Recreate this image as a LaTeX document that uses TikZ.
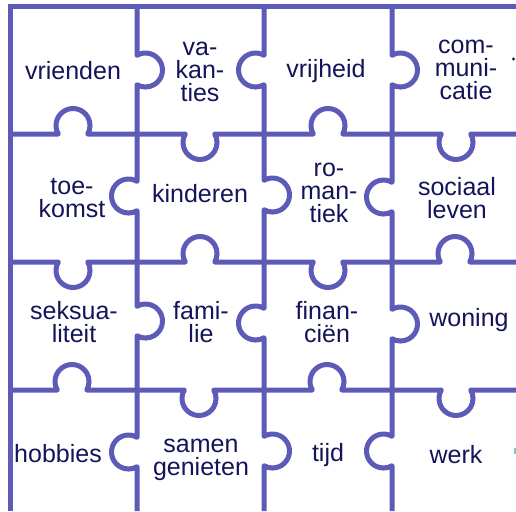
\documentclass[tikz,border=0pt]{standalone}
\usepackage{fontspec}
\setmainfont{Liberation Sans}
\definecolor{piece}{RGB}{92,92,184}
\definecolor{ink}{RGB}{20,20,90}
\definecolor{speck}{RGB}{120,200,200}

% one unit = 1pt, y grows downwards
\tikzset{
  cut/.style={draw=piece, line width=5pt, line join=round},
  word/.style={text=ink, font=\fontsize{25}{23}\selectfont, align=center, inner sep=0pt},
  % knobs on a horizontal line (args: knob centre x, line y)
  kup/.style 2 args={insert path={-- ({#1-14.7},#2) arc[start angle=150,end angle=390,radius=17]}},
  kdown/.style 2 args={insert path={-- ({#1-14.7},#2) arc[start angle=210,end angle=-30,radius=17]}},
  % knobs on a vertical line (args: line x, knob centre y)
  kright/.style 2 args={insert path={-- (#1,{#2-14.7}) arc[start angle=240,end angle=480,radius=17]}},
  kleft/.style 2 args={insert path={-- (#1,{#2-14.7}) arc[start angle=-60,end angle=-300,radius=17]}},
}

\begin{document}
\begin{tikzpicture}[x=1pt,y=-1pt]
\useasboundingbox (0,0) rectangle (516,511);
\fill[white] (0,0) rectangle (516,511);

% outer frame (top and left)
\draw[draw=piece, line width=5pt, line join=miter] (516,7) -- (10,7) -- (10,511);

% horizontal cuts
\draw[cut] (10,134) [kup={73}{134}] [kdown={200}{134}] [kup={328}{134}] [kdown={456}{134}] -- (516,134);
\draw[cut] (10,262) [kdown={73}{262}] [kup={200}{262}] [kdown={328}{262}] [kup={455}{262}] -- (516,262);
\draw[cut] (10,390) [kup={72}{390}] [kdown={199}{390}] [kup={327}{390}] [kdown={456}{390}] -- (516,390);

% vertical cuts
\draw[cut] (137,7) [kright={137}{70}] [kleft={137}{196}] [kright={137}{321}] [kleft={137}{452}] -- (137,511);
\draw[cut] (264,7) [kleft={264}{70}] [kright={264}{195}] [kleft={264}{323}] [kright={264}{451}] -- (264,511);
\draw[cut] (392,7) [kright={392}{70}] [kleft={392}{197}] [kright={392}{324}] [kleft={392}{451}] -- (392,511);

% words on the pieces
\node[word] (vrienden) at (73,71) {vrienden};
\node[word] (vakanties) at (200,72) {va-\\kan-\\ties};
\node[word] (vrijheid) at (326,71) {vrijheid};
\node[word] (communicatie) at (466,70) {com-\\muni-\\catie};

\node[word] (toekomst) at (72,198) {toe-\\komst};
\node[word] (kinderen) at (200,194) {kinderen};
\node[word] (romantiek) at (329,193) {ro-\\man-\\tiek};
\node[word] (sociaal) at (457,198) {sociaal\\leven};

\node[word] (seksualiteit) at (74,322) {seksua-\\liteit};
\node[word] (familie) at (201,322) {fami-\\lie};
\node[word] (financien) at (327,322) {finan-\\ciën};
\node[word] (woning) at (469,320) {woning};

\node[word] (hobbies) at (58,454) {hobbies};
\node[word] (samen) at (201,460) {samen\\genieten};
\node[word] (tijd) at (328,455) {tijd};
\node[word] (werk) at (456,455) {werk};

% small marks at the right border
\fill[ink] (513.5,59) circle (1.6);
\fill[speck] (514,448) rectangle (516,454);
\end{tikzpicture}
\end{document}
